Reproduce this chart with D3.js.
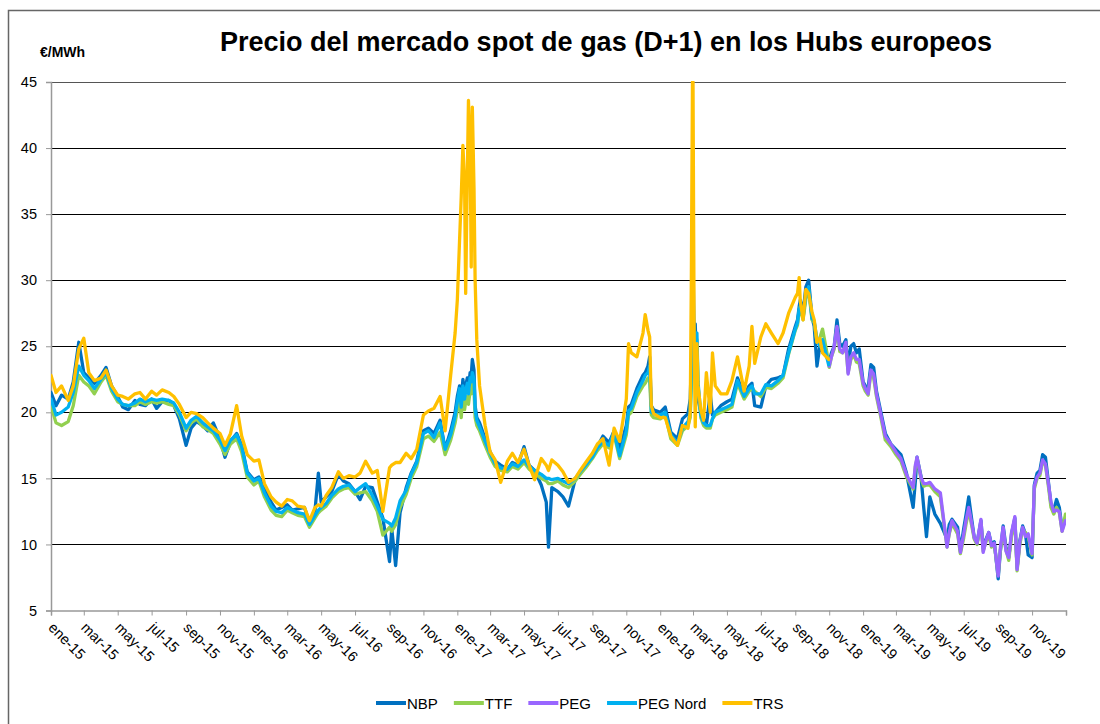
<!DOCTYPE html>
<html>
<head>
<meta charset="utf-8">
<title>Precio del mercado spot de gas (D+1) en los Hubs europeos</title>
<script src="https://d3js.org/d3.v7.min.js"></script>
<style>
  body { margin: 0; background: #fff; }
  svg text { font-family: Arial, "Liberation Sans", sans-serif; fill: #000; }
</style>
</head>
<body>
<svg width="1100" height="724"></svg>
<script>
// sampled dates (shared by every hub)
const dates = [
  // 2015
  "2015-01-01","2015-01-10","2015-01-20","2015-02-01","2015-02-10","2015-02-20","2015-03-01","2015-03-10","2015-03-20",
  "2015-04-01","2015-04-10","2015-04-20","2015-05-01","2015-05-10","2015-05-20","2015-06-01","2015-06-10","2015-06-20",
  "2015-07-01","2015-07-10","2015-07-20","2015-08-01","2015-08-10","2015-08-20","2015-09-01","2015-09-10","2015-09-20",
  "2015-10-01","2015-10-10","2015-10-20","2015-11-01","2015-11-10","2015-11-20","2015-12-01","2015-12-10","2015-12-20",
  // 2016
  "2016-01-01","2016-01-10","2016-01-20","2016-02-01","2016-02-10","2016-02-20","2016-03-01","2016-03-10","2016-03-20",
  "2016-04-01","2016-04-10","2016-04-20","2016-04-26","2016-05-01","2016-05-10","2016-05-20","2016-06-01","2016-06-10","2016-06-20",
  "2016-07-01","2016-07-10","2016-07-20","2016-08-01","2016-08-10","2016-08-20","2016-09-01","2016-09-05","2016-09-12","2016-09-20",
  "2016-10-01","2016-10-10","2016-10-20","2016-11-01","2016-11-10","2016-11-20","2016-12-01","2016-12-10","2016-12-20","2016-12-28",
  // 2017
  "2017-01-01","2017-01-05","2017-01-08","2017-01-11","2017-01-14","2017-01-16","2017-01-19","2017-01-21","2017-01-24","2017-01-26","2017-01-28","2017-01-31",
  "2017-02-02","2017-02-05","2017-02-10","2017-02-20","2017-03-01","2017-03-10","2017-03-20",
  "2017-04-01","2017-04-10","2017-04-20","2017-05-01","2017-05-10","2017-05-20","2017-06-01","2017-06-10","2017-06-14","2017-06-20",
  "2017-07-01","2017-07-10","2017-07-20","2017-08-01","2017-08-10","2017-08-20","2017-09-01","2017-09-10","2017-09-20",
  "2017-10-01","2017-10-10","2017-10-20","2017-11-01","2017-11-05","2017-11-10","2017-11-20",
  "2017-12-01","2017-12-05","2017-12-10","2017-12-13","2017-12-16","2017-12-20",
  // 2018 (to end of October: PEG Nord and TRS)
  "2018-01-01","2018-01-10","2018-01-20","2018-02-01","2018-02-10","2018-02-20","2018-02-24","2018-02-26","2018-02-28",
  "2018-03-01","2018-03-03","2018-03-05","2018-03-08","2018-03-10","2018-03-15","2018-03-20","2018-03-25",
  "2018-04-01","2018-04-05","2018-04-10","2018-04-20","2018-05-01","2018-05-10","2018-05-20",
  "2018-06-01","2018-06-10","2018-06-15","2018-06-20","2018-07-01","2018-07-10","2018-07-20","2018-08-01","2018-08-10","2018-08-20",
  "2018-09-01","2018-09-05","2018-09-08","2018-09-10","2018-09-15","2018-09-20","2018-09-25",
  "2018-10-01","2018-10-05","2018-10-10","2018-10-15","2018-10-20","2018-10-31",
  // from November 2018 (single PEG)
  "2018-11-01","2018-11-05","2018-11-10","2018-11-15","2018-11-20","2018-11-25",
  "2018-12-01","2018-12-05","2018-12-10","2018-12-15","2018-12-20","2018-12-25",
  // 2019
  "2019-01-01","2019-01-05","2019-01-10","2019-01-15","2019-01-20","2019-01-25","2019-02-01","2019-02-10","2019-02-20",
  "2019-03-01","2019-03-10","2019-03-20","2019-04-01","2019-04-05","2019-04-08","2019-04-15","2019-04-20","2019-04-25",
  "2019-05-01","2019-05-10","2019-05-20","2019-06-01","2019-06-05","2019-06-10","2019-06-20","2019-06-25",
  "2019-07-01","2019-07-05","2019-07-10","2019-07-15","2019-07-20","2019-07-25",
  "2019-08-01","2019-08-05","2019-08-10","2019-08-15","2019-08-20","2019-08-25",
  "2019-09-01","2019-09-05","2019-09-10","2019-09-15","2019-09-20","2019-09-25",
  "2019-10-01","2019-10-05","2019-10-10","2019-10-15","2019-10-20","2019-10-25",
  "2019-11-01","2019-11-05","2019-11-10","2019-11-15","2019-11-20","2019-11-25",
  "2019-12-01","2019-12-05","2019-12-10","2019-12-15","2019-12-20","2019-12-25","2019-12-31"
];

// €/MWh, same order as dates
const nbp = [
  21.5,20.5,21.3,21.0,22.3,25.3,23.0,22.6,22.2,22.8,23.4,22.0,21.2,20.4,20.2,20.9,20.6,20.5,
  21.0,20.3,20.8,20.9,20.5,19.5,17.5,18.8,19.3,19.0,18.6,19.2,18.0,16.6,17.8,18.4,17.5,15.5,
  14.9,15.1,14.2,13.2,12.6,12.8,13.0,12.6,12.7,12.8,11.6,12.6,15.4,13.2,13.6,14.0,15.3,14.8,14.6,
  14.0,13.4,14.4,14.3,13.2,12.0,8.7,11.2,8.4,12.4,14.3,15.4,16.3,18.6,18.8,18.4,19.4,17.2,18.6,20.0,
  21.2,22.0,20.8,22.5,21.3,22.0,22.6,21.8,23.0,22.8,24.0,23.2,20.5,19.6,19.2,18.0,17.0,16.3,16.0,
  15.7,16.2,16.0,17.4,16.0,15.6,14.5,13.2,9.8,14.3,14.0,13.6,12.9,14.9,15.5,16.0,16.8,17.4,18.2,
  17.7,18.6,17.2,19.0,20.4,20.6,21.8,22.8,23.0,23.5,24.2,20.5,20.2,
  20.0,20.4,18.5,18.0,19.5,19.9,21.0,24.0,28.0,32.0,24.5,26.7,22.5,21.0,20.0,19.5,19.0,
  21.4,19.8,20.0,20.5,20.8,21.0,22.6,21.3,22.0,22.2,20.5,20.4,22.0,22.5,22.6,22.8,24.8,
  26.5,27.0,28.0,28.5,27.5,29.5,30.0,27.2,26.5,23.5,25.0,24.6,24.0,
  23.8,24.5,25.0,27.0,25.2,25.0,25.5,23.5,25.0,25.2,24.5,24.8,
  22.3,22.0,21.8,23.6,23.4,21.6,20.2,18.4,17.6,17.2,16.8,15.4,12.8,14.8,16.6,15.2,12.8,10.6,
  13.6,12.3,11.6,10.4,11.5,11.9,11.3,9.5,11.2,12.2,13.6,12.0,10.5,10.1,11.8,9.7,10.4,10.9,10.0,10.2,
  7.4,9.5,11.4,9.8,9.0,10.8,12.0,8.2,10.3,11.4,10.8,9.2,9.0,14.5,15.4,15.6,16.8,16.6,
  14.5,13.0,12.6,13.4,12.8,11.2,11.9
];
const ttf = [
  20.5,19.2,19.0,19.3,20.5,22.8,22.3,22.0,21.4,22.3,22.8,21.6,20.8,20.6,20.5,20.5,20.8,20.6,
  20.8,20.7,20.8,20.6,20.5,19.8,18.6,19.2,19.5,18.9,18.7,18.4,17.6,16.8,17.6,18.0,17.0,15.1,
  14.5,14.8,13.6,12.6,12.2,12.1,12.6,12.4,12.2,12.1,11.3,12.0,12.4,12.6,12.9,13.5,14.0,14.2,14.3,
  13.8,13.9,14.0,13.3,12.5,10.7,11.3,11.0,11.5,12.8,13.8,15.0,15.9,18.0,18.2,17.8,18.5,16.8,17.9,19.2,
  20.2,21.0,19.6,21.3,20.2,20.8,21.2,20.6,21.6,21.4,22.2,21.6,19.6,19.0,18.6,17.5,16.6,15.9,15.6,
  15.5,15.9,15.7,16.2,15.7,15.4,15.0,14.8,14.6,14.6,14.8,14.5,14.3,14.8,15.3,15.8,16.5,17.1,17.6,
  17.3,18.3,16.5,18.3,19.8,20.0,21.2,22.0,22.2,22.6,22.4,19.8,19.6,
  19.5,19.8,18.0,17.5,18.6,19.0,19.6,22.0,26.0,29.0,23.5,25.2,25.5,22.0,19.6,19.0,18.8,
  18.8,19.5,19.8,20.0,20.2,20.4,22.2,21.0,21.6,21.8,21.6,21.2,21.9,21.8,22.2,22.6,24.4,
  26.2,26.6,27.6,28.0,27.0,28.6,29.3,27.0,26.8,25.3,25.6,26.3,23.8,
  23.4,24.2,24.8,26.4,24.6,24.5,25.0,23.0,24.0,24.4,23.8,23.7,
  22.0,21.6,21.3,23.0,22.6,21.2,19.8,17.9,17.4,16.8,16.3,15.1,14.2,15.9,16.5,15.0,14.4,14.5,
  14.5,14.0,13.6,9.8,10.8,11.6,10.8,9.3,10.5,11.5,12.6,11.5,10.4,10.0,11.6,9.5,10.2,10.7,9.8,10.0,
  7.7,9.6,11.0,9.6,8.8,10.6,11.8,8.0,10.0,11.1,10.9,10.6,9.2,14.2,15.0,15.2,16.3,16.0,
  14.2,12.8,12.3,12.8,12.4,11.0,12.3
];
// PEG Nord and TRS: from the first date to 2018-10-31
const pegNord = [
  21.0,19.8,20.0,20.4,21.5,23.5,22.8,22.4,21.8,22.5,23.0,21.8,21.0,20.6,20.5,20.7,21.0,20.8,
  21.0,20.9,21.0,20.9,20.7,20.0,18.8,19.4,19.7,19.2,18.9,18.6,17.9,17.1,17.9,18.3,17.4,15.4,
  14.8,15.0,13.9,12.9,12.5,12.4,12.8,12.6,12.4,12.3,11.5,12.2,12.6,12.8,13.1,13.7,14.2,14.4,14.5,
  14.0,14.3,14.6,13.7,12.9,11.9,11.6,11.4,12.0,13.3,14.1,15.3,16.2,18.4,18.6,18.1,19.2,17.2,18.3,19.7,
  20.8,21.8,20.4,22.0,21.0,21.6,22.2,21.4,22.6,22.3,23.0,22.5,20.2,19.4,18.9,17.8,16.9,16.1,15.8,
  15.7,16.1,15.9,16.4,15.9,15.6,15.3,15.0,15.0,14.9,15.0,14.8,14.6,15.0,15.5,16.0,16.6,17.3,17.8,
  17.5,18.5,16.7,18.6,20.1,20.3,21.5,22.4,22.8,23.0,23.5,20.0,19.9,
  19.8,20.0,18.3,17.7,18.8,19.3,20.0,23.0,27.0,30.0,24.0,25.5,26.0,22.3,19.8,19.2,19.0,
  19.0,19.5,20.0,20.2,20.4,20.6,22.4,21.2,21.8,22.0,21.4,21.4,22.1,22.0,22.4,22.8,24.5,
  26.3,26.8,27.8,28.0,27.2,28.8,29.5,27.1,26.9,25.5,25.0,25.5,23.6
];
const trs = [
  22.8,21.5,22.0,20.9,22.0,24.8,25.6,23.0,22.4,22.6,23.2,22.0,21.3,21.2,21.0,21.4,21.5,21.0,
  21.6,21.3,21.7,21.5,21.2,20.6,19.6,20.0,19.9,19.6,19.2,18.8,18.4,17.5,18.4,20.5,18.2,16.8,
  16.3,16.4,14.6,13.6,13.2,12.9,13.4,13.3,12.9,12.8,11.8,12.8,13.0,12.9,13.7,14.3,15.5,15.0,15.2,
  15.1,15.4,16.3,15.4,15.6,12.5,15.8,16.0,16.2,16.2,16.9,16.5,17.2,19.8,20.1,20.3,21.2,18.6,22.8,26.0,
  28.5,33.0,36.3,40.2,37.5,29.0,38.0,43.6,40.0,31.0,43.1,37.0,30.0,25.5,22.0,19.0,17.0,16.4,14.7,
  16.3,16.9,16.2,17.2,16.0,14.9,16.5,16.0,15.6,16.4,16.0,15.5,14.7,15.0,15.6,16.2,16.9,17.6,18.0,
  16.0,18.8,17.8,21.0,25.2,24.5,24.2,26.0,27.4,26.2,25.7,20.5,19.9,
  19.6,19.6,18.2,17.5,19.0,18.8,20.0,30.2,45.0,45.0,26.0,18.9,25.2,22.0,20.2,19.4,23.0,
  20.0,24.5,22.0,21.4,21.4,22.4,24.2,21.6,23.5,26.5,23.7,25.7,26.7,26.0,25.2,26.0,27.5,
  28.7,29.0,30.2,28.4,27.0,29.3,29.0,27.6,27.0,25.3,25.6,24.5,24.0
];
// PEG: from 2018-11-01 to the last date
const peg = [
  23.5,24.2,25.0,26.5,24.8,24.5,25.3,22.9,24.2,24.5,24.0,24.0,
  22.2,21.8,21.4,23.2,22.9,21.4,20.0,18.2,17.6,17.0,16.5,15.3,14.3,16.0,16.6,15.1,14.6,14.6,
  14.7,14.2,13.9,9.8,10.9,11.8,11.0,9.4,10.8,11.8,12.8,11.7,10.5,10.1,11.9,9.4,10.3,10.9,9.9,10.1,
  7.6,9.8,11.3,9.5,9.0,10.9,12.1,8.1,10.2,11.3,10.6,10.8,9.3,14.4,15.1,15.4,16.4,16.1,
  14.4,13.2,12.5,12.6,12.5,11.0,11.8
];

const yTicks = [5, 10, 15, 20, 25, 30, 35, 40, 45];
const meses = ["ene","feb","mar","abr","may","jun","jul","ago","sep","oct","nov","dic"];
const hubs = ["NBP", "TTF", "PEG", "PEG Nord", "TRS"];
const colors = ["#0070C0", "#92D050", "#9966FF", "#00B0F0", "#FFC000"];

if (nbp.length !== dates.length || ttf.length !== dates.length ||
    pegNord.length !== trs.length || pegNord.length + peg.length !== dates.length) {
  throw new Error("lengths " + [dates.length, nbp.length, ttf.length, pegNord.length, trs.length, peg.length].join(","));
}

const svg = d3.select("svg");
const parse = d3.utcParse("%Y-%m-%d");
const t = dates.map(parse);
const split = pegNord.length;

const plotL = 51, plotR = 1066, plotT = 82, plotB = 610.5;
const x = d3.scaleUtc().domain([new Date(Date.UTC(2015, 0, 1)), new Date(Date.UTC(2020, 0, 1))]).range([plotL, plotR]);
const y = d3.scaleLinear().domain([5, 45]).range([plotB, plotT]);

svg.append("rect").attr("width", 1100).attr("height", 724).attr("fill", "#fff");
// outer frame
svg.append("path").attr("d", "M8.5,724V10.5H1100").attr("fill", "none").attr("stroke", "#666").attr("stroke-width", 1.5);

svg.append("text").attr("x", 606).attr("y", 51).attr("text-anchor", "middle")
  .style("font-size", "27px").style("font-weight", "bold")
  .text("Precio del mercado spot de gas (D+1) en los Hubs europeos");
svg.append("text").attr("x", 40).attr("y", 57)
  .style("font-size", "14px").style("font-weight", "bold").text("€/MWh");

// gridlines
svg.append("g").selectAll("line").data(yTicks.filter(v => v > 5)).join("line")
  .attr("x1", plotL).attr("x2", plotR)
  .attr("y1", d => Math.round(y(d)) + 0.5).attr("y2", d => Math.round(y(d)) + 0.5)
  .attr("stroke", d => d === 45 ? "#555" : "#000").attr("stroke-width", 1.2);

// y axis
const yAxis = svg.append("g").attr("transform", `translate(${plotL},0)`)
  .call(d3.axisLeft(y).tickValues(yTicks).tickSize(5).tickPadding(9));
yAxis.select(".domain").attr("stroke", "#999").attr("stroke-width", 1.5);
yAxis.selectAll(".tick line").attr("stroke", "#999");
yAxis.selectAll("text").style("font-size", "14.5px").attr("fill", "#000");

// x axis
const xTicks = d3.utcMonth.every(2).range(x.domain()[0], x.domain()[1]).concat([x.domain()[1]]);
const xAxis = svg.append("g").attr("transform", `translate(0,${plotB})`)
  .call(d3.axisBottom(x).tickValues(xTicks).tickSize(5)
    .tickFormat(d => d.getUTCFullYear() === 2020 ? "" : meses[d.getUTCMonth()] + "-" + String(d.getUTCFullYear()).slice(2)));
xAxis.select(".domain").attr("stroke", "#999").attr("stroke-width", 1.5);
xAxis.selectAll(".tick line").attr("stroke", "#999");
xAxis.selectAll("text").style("font-size", "14.5px").attr("fill", "#000")
  .attr("text-anchor", "start").attr("dy", null).attr("y", null)
  .attr("transform", "translate(-4,18) rotate(45)");

// series
svg.append("clipPath").attr("id", "plot").append("rect")
  .attr("x", plotL).attr("y", plotT - 1).attr("width", plotR - plotL).attr("height", plotB - plotT + 1);

const line = d3.line().x(d => x(d[0])).y(d => y(d[1]));
const seriesData = [
  nbp.map((v, i) => [t[i], v]),
  ttf.map((v, i) => [t[i], v]),
  peg.map((v, i) => [t[split + i], v]),
  pegNord.map((v, i) => [t[i], v]),
  trs.map((v, i) => [t[i], v])
];
svg.append("g").attr("clip-path", "url(#plot)").selectAll("path").data(seriesData).join("path")
  .attr("d", line).attr("fill", "none")
  .attr("stroke", (d, i) => colors[i]).attr("stroke-width", 3.3)
  .attr("stroke-linejoin", "round").attr("stroke-linecap", "round");

// legend
let lx = 376;
hubs.forEach((name, i) => {
  const g = svg.append("g");
  g.append("line").attr("x1", lx).attr("x2", lx + 30).attr("y1", 703).attr("y2", 703)
    .attr("stroke", colors[i]).attr("stroke-width", 4);
  const txt = g.append("text").attr("x", lx + 31).attr("y", 708.5).style("font-size", "15px").text(name);
  lx += 31 + txt.node().getComputedTextLength() + 16;
});
</script>
</body>
</html>
